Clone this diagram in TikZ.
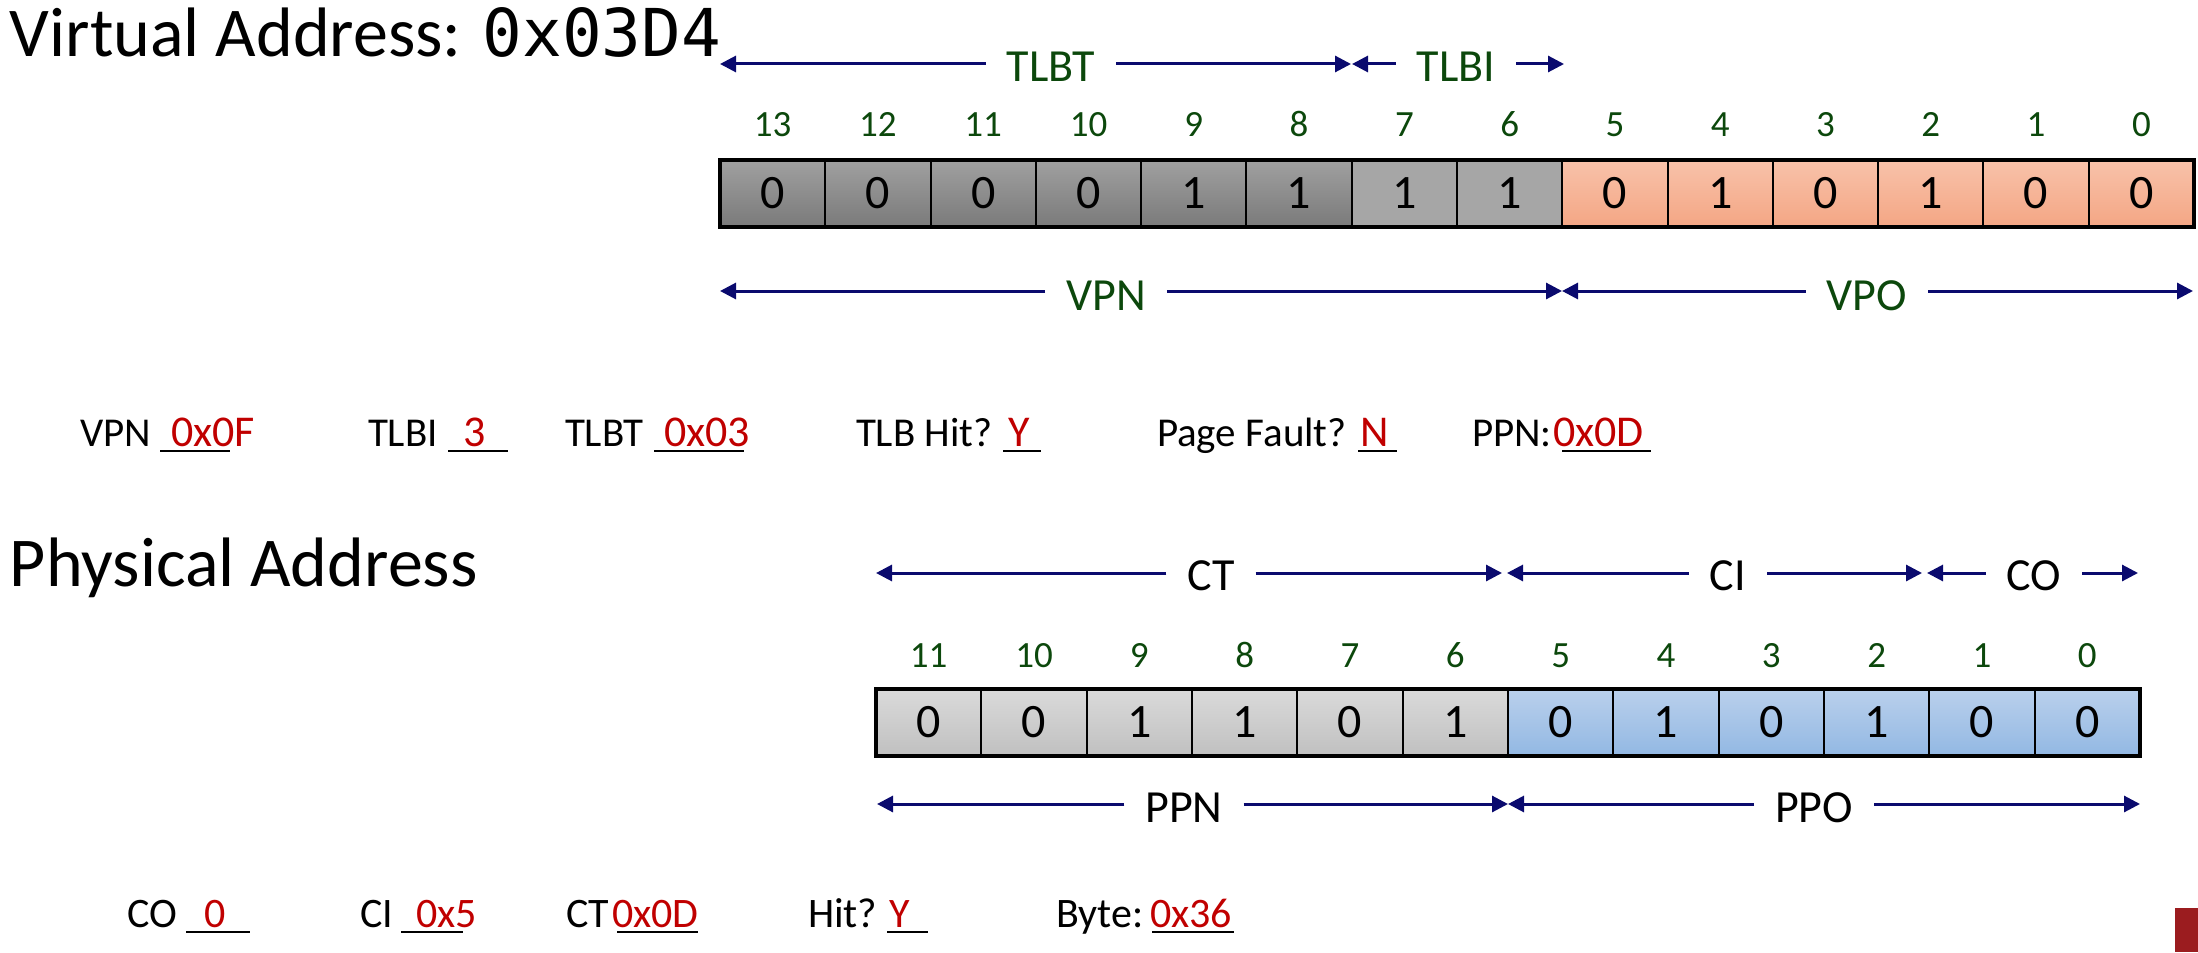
\documentclass[tikz,border=0pt]{standalone}
\usepackage{fontspec}
\setmainfont{Carlito}
\newfontfamily\monofont{DejaVu Sans Mono}
\usetikzlibrary{arrows.meta}
\definecolor{navyarr}{RGB}{10,10,110}
\definecolor{bitgreen}{RGB}{12,72,12}
\definecolor{ansred}{RGB}{192,0,0}
\definecolor{barred}{RGB}{155,28,31}
\definecolor{vdarkT}{RGB}{160,160,160}
\definecolor{vdarkB}{RGB}{122,122,122}
\definecolor{vlightC}{RGB}{166,166,166}
\definecolor{vorT}{RGB}{248,194,170}
\definecolor{vorB}{RGB}{244,166,132}
\definecolor{pgrT}{RGB}{218,218,218}
\definecolor{pgrB}{RGB}{192,192,192}
\definecolor{pblT}{RGB}{186,208,236}
\definecolor{pblB}{RGB}{146,184,227}
\newcommand\fsz[1]{\fontsize{#1}{#1}\selectfont}
\newcommand\spanarrow[3]{%
  \draw[arr] (#1.west |- #2) -- (#2);
  \draw[arr] (#1.east |- #3) -- (#3);}
\begin{document}
\begin{tikzpicture}[x=0.5pt,y=-0.5pt,
  every node/.style={inner sep=0pt, outer sep=0pt},
  title/.style={anchor=base west, font=\fsz{35pt}},
  cellbox/.style={draw=black, line width=1pt, minimum width=52.65pt,
    minimum height=33.5pt, font=\fsz{24pt}},
  vdarkcell/.style={top color=vdarkT, bottom color=vdarkB},
  vlightcell/.style={fill=vlightC},
  vorcell/.style={top color=vorT, bottom color=vorB},
  pgrcell/.style={top color=pgrT, bottom color=pgrB},
  pblcell/.style={top color=pblT, bottom color=pblB},
  outerbox/.style={draw=black, line width=1.75pt},
  bitnum/.style={anchor=base, font=\fsz{18.5pt}, text=bitgreen},
  lbl/.style={anchor=base, font=\fsz{23pt}, inner xsep=10.5pt},
  arr/.style={draw=navyarr, line width=1.5pt, -{Triangle[length=8pt,width=8pt]}},
  qtxt/.style={anchor=base west, font=\fsz{20.5pt}},
  qval/.style={anchor=base west, font=\fsz{22pt}, text=ansred},
  qtxtb/.style={anchor=base west, font=\fsz{21pt}},
  qvalb/.style={anchor=base west, font=\fsz{21pt}, text=ansred},
  uline/.style={draw=black, line width=1.3pt}
]
\useasboundingbox (0,0) rectangle (2198,952);

% ---------- titles ----------
\node[title] (vatitle) at (10,57) {Virtual Address: {\monofont\fsz{33pt}0x03D4}};
\node[title] (patitle) at (10,586) {Physical Address};

% ---------- virtual address cells ----------
\foreach \b [count=\i from 0] in {0,0,0,0,1,1,1,1,0,1,0,1,0,0} {
  \pgfmathtruncatemacro\bitn{13-\i}
  \ifnum\i<6 \def\cs{vdarkcell}\else\ifnum\i<8 \def\cs{vlightcell}\else\def\cs{vorcell}\fi\fi
  \node[cellbox,\cs] (v\bitn) at ({720+(\i+0.5)*105.286},193.5) {\b};
  \node[bitnum] (vn\bitn) at ({720+(\i+0.5)*105.286},137) {\bitn};
}
\draw[outerbox] (v13.north west) rectangle (v0.south east);

% ---------- physical address cells ----------
\foreach \b [count=\i from 0] in {0,0,1,1,0,1,0,1,0,1,0,0} {
  \pgfmathtruncatemacro\bitn{11-\i}
  \ifnum\i<6 \def\cs{pgrcell}\else\def\cs{pblcell}\fi
  \node[cellbox,\cs] (p\bitn) at ({876+(\i+0.5)*105.333},722.5) {\b};
  \node[bitnum] (pn\bitn) at ({876+(\i+0.5)*105.333},667) {\bitn};
}
\draw[outerbox] (p11.north west) rectangle (p0.south east);

% ---------- virtual address span labels ----------
\node[lbl, text=bitgreen] (tlbt) at (1051,82) {TLBT};
\node[lbl, text=bitgreen] (tlbi) at (1456,82) {TLBI};
\node[lbl, text=bitgreen] (vpn) at (1106,310) {VPN};
\node[lbl, text=bitgreen] (vpo) at (1867,310) {VPO};
\coordinate (tlbtL) at (720,64);  \coordinate (tlbtR) at (1351,64);
\coordinate (tlbiL) at (1352,64); \coordinate (tlbiR) at (1564,64);
\coordinate (vpnL) at (720,291);  \coordinate (vpnR) at (1562,291);
\coordinate (vpoL) at (1562,291); \coordinate (vpoR) at (2193,291);
\spanarrow{tlbt}{tlbtL}{tlbtR}
\spanarrow{tlbi}{tlbiL}{tlbiR}
\spanarrow{vpn}{vpnL}{vpnR}
\spanarrow{vpo}{vpoL}{vpoR}

% ---------- physical address span labels ----------
\node[lbl] (ct) at (1211,590) {CT};
\node[lbl] (ci) at (1728,590) {CI};
\node[lbl] (co) at (2034,590) {CO};
\node[lbl] (ppn) at (1184,822) {PPN};
\node[lbl] (ppo) at (1814,822) {PPO};
\coordinate (ctL) at (876,573);  \coordinate (ctR) at (1502,573);
\coordinate (ciL) at (1507,573); \coordinate (ciR) at (1922,573);
\coordinate (coL) at (1927,573); \coordinate (coR) at (2138,573);
\coordinate (ppnL) at (877,804); \coordinate (ppnR) at (1508,804);
\coordinate (ppoL) at (1508,804); \coordinate (ppoR) at (2140,804);
\spanarrow{ct}{ctL}{ctR}
\spanarrow{ci}{ciL}{ciR}
\spanarrow{co}{coL}{coR}
\spanarrow{ppn}{ppnL}{ppnR}
\spanarrow{ppo}{ppoL}{ppoR}

% ---------- answer row 1 ----------
\node[qtxt] (qvpn) at (80,446) {VPN};
\coordinate (u1a) at (160,451); \coordinate (u1b) at (230,451);
\draw[uline] (u1a) -- (u1b);
\node[qval] (avpn) at (171,446) {0x0F};

\node[qtxt] (qtlbi) at (368,446) {TLBI};
\coordinate (u2a) at (448,451); \coordinate (u2b) at (508,451);
\draw[uline] (u2a) -- (u2b);
\node[qval] (atlbi) at (463,446) {3};

\node[qtxt] (qtlbt) at (565,446) {TLBT};
\coordinate (u3a) at (654,451); \coordinate (u3b) at (744,451);
\draw[uline] (u3a) -- (u3b);
\node[qval] (atlbt) at (664,446) {0x03};

\node[qtxt] (qhit) at (856,446) {TLB Hit?};
\coordinate (u4a) at (1003,451); \coordinate (u4b) at (1041,451);
\draw[uline] (u4a) -- (u4b);
\node[qval] (ahit) at (1008,446) {Y};

\node[qtxt] (qpf) at (1157,446) {Page Fault?};
\coordinate (u5a) at (1358,451); \coordinate (u5b) at (1397,451);
\draw[uline] (u5a) -- (u5b);
\node[qval] (apf) at (1360,446) {N};

\node[qtxt] (qppn) at (1472,446) {PPN:};
\coordinate (u6a) at (1562,451); \coordinate (u6b) at (1651,451);
\draw[uline] (u6a) -- (u6b);
\node[qval] (appn) at (1553,446) {0x0D};

% ---------- answer row 2 ----------
\node[qtxtb] (qco) at (127,927) {CO};
\coordinate (w1a) at (186,932); \coordinate (w1b) at (250,932);
\draw[uline] (w1a) -- (w1b);
\node[qvalb] (aco) at (204,927) {0};

\node[qtxtb] (qci) at (360,927) {CI};
\coordinate (w2a) at (401,932); \coordinate (w2b) at (463,932);
\draw[uline] (w2a) -- (w2b);
\node[qvalb] (aci) at (416,927) {0x5};

\node[qtxtb] (qct) at (566,927) {CT};
\coordinate (w3a) at (617,932); \coordinate (w3b) at (698,932);
\draw[uline] (w3a) -- (w3b);
\node[qvalb] (act) at (612,927) {0x0D};

\node[qtxtb] (qchit) at (808,927) {Hit?};
\coordinate (w4a) at (887,932); \coordinate (w4b) at (928,932);
\draw[uline] (w4a) -- (w4b);
\node[qvalb] (achit) at (889,927) {Y};

\node[qtxtb] (qbyte) at (1056,927) {Byte:};
\coordinate (w5a) at (1152,932); \coordinate (w5b) at (1234,932);
\draw[uline] (w5a) -- (w5b);
\node[qvalb] (abyte) at (1150,927) {0x36};

% ---------- corner bar ----------
\fill[barred] (2175,908) rectangle (2198,952);
\end{tikzpicture}
\end{document}
